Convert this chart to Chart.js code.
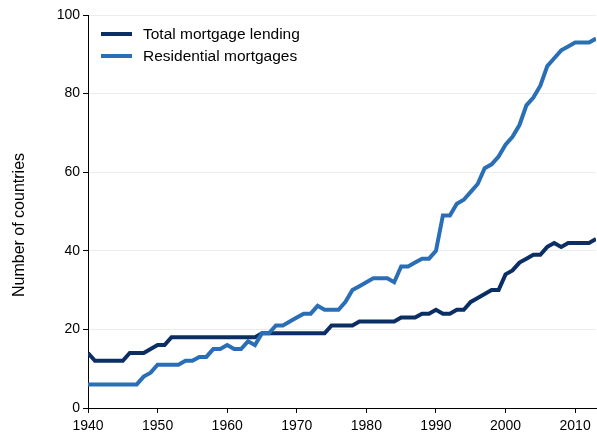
<!DOCTYPE html>
<html>
<head>
<meta charset="utf-8">
<script src="https://cdn.jsdelivr.net/npm/chart.js@4/dist/chart.umd.min.js"></script>
<style>
    html, body { margin: 0; padding: 0; background: #fff; }
    #wrap { width: 597px; height: 432px; }
</style>
</head>
<body>
<div id="wrap"><canvas id="mortgageChart" width="597" height="432"></canvas></div>
<script>
// Years covered by the series
const years = [];
for (let y = 1940; y <= 2013; y++) years.push(y);

// Number of countries with mortgage data, per year
const totalLending = [
    14, 12, 12, 12, 12, 12, 14, 14, 14, 15,   // 1940s
    16, 16, 18, 18, 18, 18, 18, 18, 18, 18,   // 1950s
    18, 18, 18, 18, 18, 19, 19, 19, 19, 19,   // 1960s
    19, 19, 19, 19, 19, 21, 21, 21, 21, 22,   // 1970s
    22, 22, 22, 22, 22, 23, 23, 23, 24, 24,   // 1980s
    25, 24, 24, 25, 25, 27, 28, 29, 30, 30,   // 1990s
    34, 35, 37, 38, 39, 39, 41, 42, 41, 42,   // 2000s
    42, 42, 42, 43                            // 2010-2013
];
const residential = [
    6, 6, 6, 6, 6, 6, 6, 6, 8, 9,
    11, 11, 11, 11, 12, 12, 13, 13, 15, 15,
    16, 15, 15, 17, 16, 19, 19, 21, 21, 22,
    23, 24, 24, 26, 25, 25, 25, 27, 30, 31,
    32, 33, 33, 33, 32, 36, 36, 37, 38, 38,
    40, 49, 49, 52, 53, 55, 57, 61, 62, 64,
    67, 69, 72, 77, 79, 82, 87, 89, 91, 92,
    93, 93, 93, 94
];

const xTicks = [1940, 1950, 1960, 1970, 1980, 1990, 2000, 2010];
const yTicks = [0, 20, 40, 60, 80, 100];
const yTitle = 'Number of countries';

const COLORS = {
    total: '#0b2f64',
    residential: '#2a6fb6'
};
const FONT = '"Liberation Sans", Arial, Helvetica, sans-serif';

// Legend inside the plot (upper left) and the rotated y-axis title
const annotations = {
    id: 'annotations',
    afterDraw(chart) {
        const ctx = chart.ctx;
        ctx.save();
        ctx.font = '15.5px ' + FONT;
        ctx.textBaseline = 'middle';
        chart.data.datasets.forEach((ds, i) => {
            const y = 34 + i * 22;
            ctx.strokeStyle = ds.borderColor;
            ctx.lineWidth = 4;
            ctx.beginPath();
            ctx.moveTo(101, y);
            ctx.lineTo(132, y);
            ctx.stroke();
            ctx.fillStyle = '#000';
            ctx.fillText(ds.label, 143, y + 1);
        });

        ctx.translate(20, 225);
        ctx.rotate(-Math.PI / 2);
        ctx.font = '16px ' + FONT;
        ctx.textAlign = 'center';
        ctx.fillText(yTitle, 0, 0);
        ctx.restore();
    }
};

function toPoints(values) {
    return values.map((v, i) => ({ x: years[i], y: v }));
}

new Chart(document.getElementById('mortgageChart'), {
    type: 'line',
    data: {
        datasets: [
            {
                label: 'Total mortgage lending',
                data: toPoints(totalLending),
                borderColor: COLORS.total,
                backgroundColor: COLORS.total,
                borderWidth: 4,
                pointRadius: 0,
                tension: 0,
                order: 1
            },
            {
                label: 'Residential mortgages',
                data: toPoints(residential),
                borderColor: COLORS.residential,
                backgroundColor: COLORS.residential,
                borderWidth: 4,
                pointRadius: 0,
                tension: 0,
                order: 0
            }
        ]
    },
    options: {
        responsive: false,
        animation: false,
        layout: { padding: { top: 15, right: 1, left: 0, bottom: 0 } },
        plugins: {
            legend: { display: false },
            tooltip: { enabled: false }
        },
        scales: {
            x: {
                type: 'linear',
                min: 1940,
                max: 2013,
                afterBuildTicks: scale => {
                    scale.ticks = xTicks.map(v => ({ value: v }));
                },
                afterFit: scale => { scale.height = 24; },
                ticks: {
                    color: '#000',
                    font: { family: FONT, size: 14 },
                    padding: 5,
                    maxRotation: 0,
                    callback: v => String(v)
                },
                grid: {
                    drawOnChartArea: false,
                    tickLength: 5,
                    tickColor: '#000'
                },
                border: { color: '#000', width: 1 }
            },
            y: {
                min: 0,
                max: 100,
                afterBuildTicks: scale => {
                    scale.ticks = yTicks.map(v => ({ value: v }));
                },
                afterFit: scale => { scale.width = 88; },
                ticks: {
                    color: '#000',
                    font: { family: FONT, size: 14 },
                    padding: 3,
                    callback: v => String(v)
                },
                grid: {
                    color: ctx => ctx.tick && ctx.tick.value === 0 ? 'rgba(0,0,0,0)' : '#ececec',
                    tickLength: 5,
                    tickColor: '#000'
                },
                border: { color: '#000', width: 1 }
            }
        }
    },
    plugins: [annotations]
});
</script>
</body>
</html>
